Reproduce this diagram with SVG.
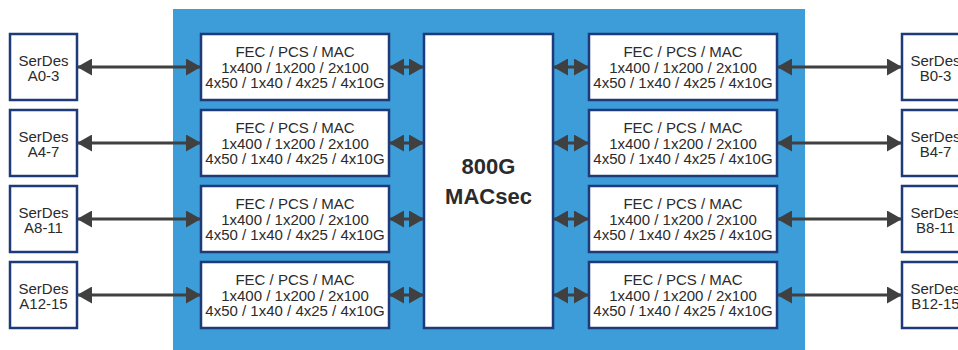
<svg xmlns="http://www.w3.org/2000/svg" width="958" height="350" viewBox="0 0 958 350">
<defs>
<style>
.box{fill:#ffffff;stroke:#1f3a78;stroke-width:2.5}
.t{font-family:"Liberation Sans",Arial,sans-serif;font-size:15px;fill:#2b2b2b;text-anchor:middle}
.s{font-family:"Liberation Sans",Arial,sans-serif;font-size:15px;fill:#2b2b2b;text-anchor:middle}
.b{font-family:"Liberation Sans",Arial,sans-serif;font-size:22px;font-weight:bold;fill:#2b2b2b;text-anchor:middle}
.ln{stroke:#404040;stroke-width:3;fill:none;marker-start:url(#ah);marker-end:url(#ah)}
</style>
<marker id="ah" markerUnits="userSpaceOnUse" markerWidth="15" markerHeight="17" viewBox="0 0 15 17" refX="14" refY="8.5" orient="auto-start-reverse">
<path d="M0,0 L15,8.5 L0,17 Z" fill="#404040"/>
</marker>
</defs>
<rect x="173" y="9" width="632" height="341" fill="#3d9dd9"/>
<g id="connectors">
<line class="ln" x1="78" y1="67" x2="200" y2="67"/>
<line class="ln" x1="78" y1="143" x2="200" y2="143"/>
<line class="ln" x1="78" y1="219" x2="200" y2="219"/>
<line class="ln" x1="78" y1="295" x2="200" y2="295"/>
<line class="ln" x1="390" y1="67" x2="423" y2="67"/>
<line class="ln" x1="390" y1="143" x2="423" y2="143"/>
<line class="ln" x1="390" y1="219" x2="423" y2="219"/>
<line class="ln" x1="390" y1="295" x2="423" y2="295"/>
<line class="ln" x1="554" y1="67" x2="588" y2="67"/>
<line class="ln" x1="554" y1="143" x2="588" y2="143"/>
<line class="ln" x1="554" y1="219" x2="588" y2="219"/>
<line class="ln" x1="554" y1="295" x2="588" y2="295"/>
<line class="ln" x1="778" y1="67" x2="901" y2="67"/>
<line class="ln" x1="778" y1="143" x2="901" y2="143"/>
<line class="ln" x1="778" y1="219" x2="901" y2="219"/>
<line class="ln" x1="778" y1="295" x2="901" y2="295"/>
</g>
<g id="serdes-a0"><rect class="box" x="10" y="34" width="67" height="66"/><text class="s" x="43.5" y="65.5">SerDes</text><text class="s" x="43.5" y="81">A0-3</text></g>
<g id="serdes-a4"><rect class="box" x="10" y="110" width="67" height="66"/><text class="s" x="43.5" y="141.5">SerDes</text><text class="s" x="43.5" y="157">A4-7</text></g>
<g id="serdes-a8"><rect class="box" x="10" y="186" width="67" height="66"/><text class="s" x="43.5" y="217.5">SerDes</text><text class="s" x="43.5" y="233">A8-11</text></g>
<g id="serdes-a12"><rect class="box" x="10" y="262" width="67" height="66"/><text class="s" x="43.5" y="293.5">SerDes</text><text class="s" x="43.5" y="309">A12-15</text></g>
<g id="serdes-b0"><rect class="box" x="902" y="34" width="67" height="66"/><text class="s" x="935.5" y="65.5">SerDes</text><text class="s" x="935.5" y="81">B0-3</text></g>
<g id="serdes-b4"><rect class="box" x="902" y="110" width="67" height="66"/><text class="s" x="935.5" y="141.5">SerDes</text><text class="s" x="935.5" y="157">B4-7</text></g>
<g id="serdes-b8"><rect class="box" x="902" y="186" width="67" height="66"/><text class="s" x="935.5" y="217.5">SerDes</text><text class="s" x="935.5" y="233">B8-11</text></g>
<g id="serdes-b12"><rect class="box" x="902" y="262" width="67" height="66"/><text class="s" x="935.5" y="293.5">SerDes</text><text class="s" x="935.5" y="309">B12-15</text></g>
<g id="fec-l1"><rect class="box" x="201" y="34" width="188" height="66"/><text class="t" x="295" y="57">FEC / PCS / MAC</text><text class="t" x="295" y="72.5">1x400 / 1x200 / 2x100</text><text class="t" x="295" y="88">4x50 / 1x40 / 4x25 / 4x10G</text></g>
<g id="fec-l2"><rect class="box" x="201" y="110" width="188" height="66"/><text class="t" x="295" y="133">FEC / PCS / MAC</text><text class="t" x="295" y="148.5">1x400 / 1x200 / 2x100</text><text class="t" x="295" y="164">4x50 / 1x40 / 4x25 / 4x10G</text></g>
<g id="fec-l3"><rect class="box" x="201" y="186" width="188" height="66"/><text class="t" x="295" y="209">FEC / PCS / MAC</text><text class="t" x="295" y="224.5">1x400 / 1x200 / 2x100</text><text class="t" x="295" y="240">4x50 / 1x40 / 4x25 / 4x10G</text></g>
<g id="fec-l4"><rect class="box" x="201" y="262" width="188" height="66"/><text class="t" x="295" y="285">FEC / PCS / MAC</text><text class="t" x="295" y="300.5">1x400 / 1x200 / 2x100</text><text class="t" x="295" y="316">4x50 / 1x40 / 4x25 / 4x10G</text></g>
<g id="fec-r1"><rect class="box" x="589" y="34" width="188" height="66"/><text class="t" x="683" y="57">FEC / PCS / MAC</text><text class="t" x="683" y="72.5">1x400 / 1x200 / 2x100</text><text class="t" x="683" y="88">4x50 / 1x40 / 4x25 / 4x10G</text></g>
<g id="fec-r2"><rect class="box" x="589" y="110" width="188" height="66"/><text class="t" x="683" y="133">FEC / PCS / MAC</text><text class="t" x="683" y="148.5">1x400 / 1x200 / 2x100</text><text class="t" x="683" y="164">4x50 / 1x40 / 4x25 / 4x10G</text></g>
<g id="fec-r3"><rect class="box" x="589" y="186" width="188" height="66"/><text class="t" x="683" y="209">FEC / PCS / MAC</text><text class="t" x="683" y="224.5">1x400 / 1x200 / 2x100</text><text class="t" x="683" y="240">4x50 / 1x40 / 4x25 / 4x10G</text></g>
<g id="fec-r4"><rect class="box" x="589" y="262" width="188" height="66"/><text class="t" x="683" y="285">FEC / PCS / MAC</text><text class="t" x="683" y="300.5">1x400 / 1x200 / 2x100</text><text class="t" x="683" y="316">4x50 / 1x40 / 4x25 / 4x10G</text></g>
<g id="macsec"><rect class="box" x="424" y="34" width="129" height="294"/><text class="b" x="488.5" y="174">800G</text><text class="b" x="488.5" y="204">MACsec</text></g>
</svg>
